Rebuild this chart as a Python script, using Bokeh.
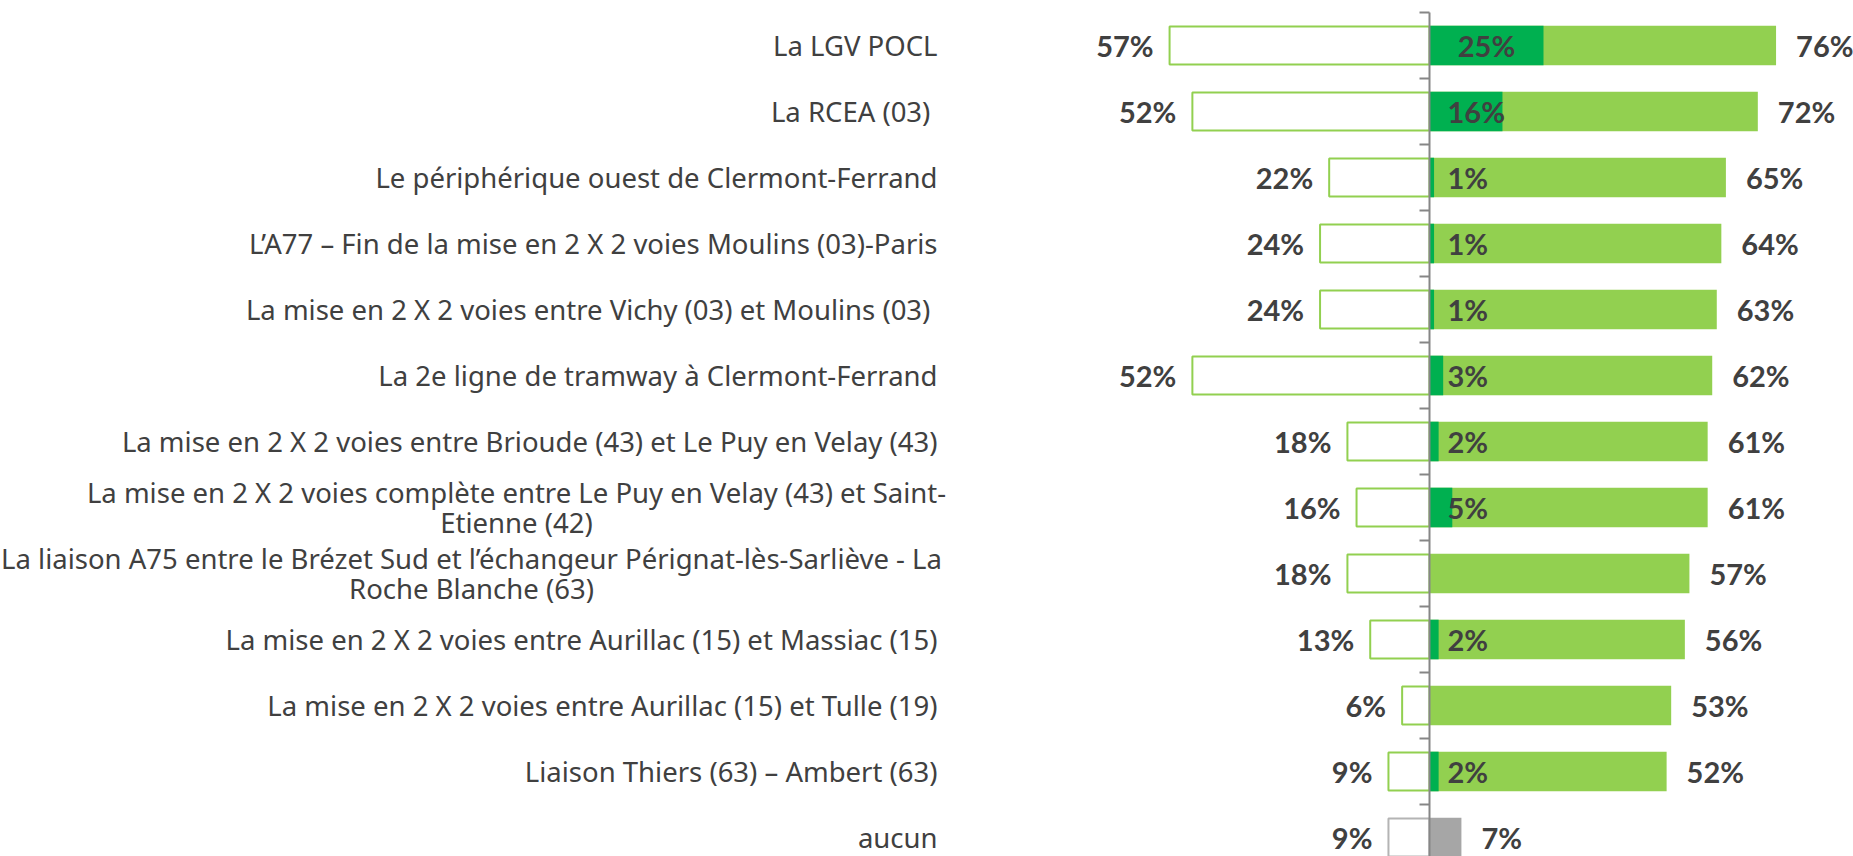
from bokeh.plotting import figure
from bokeh.models import ColumnDataSource, Range1d
from bokeh.core.properties import value
from bokeh.embed import file_html
from bokeh.resources import INLINE

# ---------------- data ----------------
categories = [
    "La LGV POCL",
    "La RCEA  (03)",
    "Le périphérique ouest de Clermont-Ferrand",
    "L\u2019A77 \u2013 Fin de la mise en 2 X 2 voies Moulins (03)-Paris",
    "La mise en 2 X 2 voies entre Vichy (03)  et Moulins (03)",
    "La 2e ligne de tramway à Clermont-Ferrand",
    "La mise en 2 X 2 voies entre Brioude (43) et Le Puy en Velay (43)",
    "La mise en 2 X 2 voies complète entre Le Puy en Velay (43) et Saint-\nEtienne (42)",
    "La liaison A75 entre le Brézet Sud et l\u2019échangeur Pérignat-lès-Sarliève - La\nRoche Blanche (63)",
    "La mise en 2 X 2 voies entre Aurillac (15) et Massiac (15)",
    "La mise en 2 X 2 voies entre Aurillac (15) et Tulle (19)",
    "Liaison Thiers (63) \u2013 Ambert (63)",
    "aucun",
]
left_values = [57, 52, 22, 24, 24, 52, 18, 16, 18, 13, 6, 9, 9]
total_values = [76, 72, 65, 64, 63, 62, 61, 61, 57, 56, 53, 52, 7]
first_values = [25, 16, 1, 1, 1, 3, 2, 5, None, 2, None, 2, None]

# ---------------- layout ----------------
W, H = 1853, 856
AXIS_PX = 1429
PX_PER = 4.56
ROW_PX = 66
TOP_PX = 12
LABEL_RIGHT_PX = 937
MULTI_CENTER_PX = [516, 471]   # centres of the two wrapped label blocks

LIGHT = "#92D050"
DARK = "#00B050"
GREY = "#A6A6A6"
TXT = "#404040"

x_start = -AXIS_PX / PX_PER
x_end = (W - AXIS_PX) / PX_PER
y_top = -0.5 - TOP_PX / ROW_PX
y_bottom = -0.5 + (H - TOP_PX) / ROW_PX

n = len(categories)
ys = list(range(n))
is_none = [c == "aucun" for c in categories]

p = figure(width=W, height=H, x_range=Range1d(x_start, x_end),
           y_range=Range1d(y_bottom, y_top), output_backend="svg",
           toolbar_location=None, min_border=0, x_axis_type=None,
           y_axis_type=None)
p.outline_line_color = None
p.background_fill_color = "white"
p.border_fill_color = "white"

# left (outlined) bars
src_left = ColumnDataSource(dict(
    y=ys, left=[-v for v in left_values],
    line=["#B4B4B4" if k else LIGHT for k in is_none]))
p.hbar(y="y", left="left", right=0, height=0.575, source=src_left,
       fill_color="white", line_color="line", line_width=2)

# right total bars
src_tot = ColumnDataSource(dict(
    y=ys, right=total_values,
    color=[GREY if k else LIGHT for k in is_none]))
p.hbar(y="y", left=0, right="right", height=0.6, source=src_tot,
       fill_color="color", line_color=None)

# dark first-choice bars
fy = [y for y, v in zip(ys, first_values) if v is not None]
fv = [v for v in first_values if v is not None]
p.hbar(y=fy, left=0, right=fv, height=0.6, fill_color=DARK, line_color=None)

# axis line and ticks
bounds = [i - 0.5 for i in range(n + 1)]
p.segment(x0=[0], y0=[bounds[0]], x1=[0], y1=[bounds[-1]],
          line_color="#868686", line_width=2)
p.segment(x0=[-10 / PX_PER] * len(bounds), y0=bounds, x1=[0] * len(bounds),
          y1=bounds, line_color="#868686", line_width=2)

# category labels
lab_font = dict(text_font=value("Noto Sans"), text_font_size="27.5px",
                text_color=TXT, text_baseline="middle")
single = [(y, c) for y, c in zip(ys, categories) if "\n" not in c]
multi = [(y, c) for y, c in zip(ys, categories) if "\n" in c]
p.text(x=[(LABEL_RIGHT_PX - AXIS_PX) / PX_PER] * len(single),
       y=[s[0] for s in single], text=[s[1] for s in single],
       text_align="right", **lab_font)
p.text(x=[(cx - AXIS_PX) / PX_PER for cx in MULTI_CENTER_PX],
       y=[m[0] for m in multi], text=[m[1] for m in multi],
       text_align="center", text_line_height=0.8, **lab_font)

vfont = dict(text_font=value("Lato"), text_font_size="29px",
             text_font_style="bold", text_color=TXT, text_baseline="middle")

# left value labels
p.text(x=[-(v + 16 / PX_PER) for v in left_values], y=ys,
       text=[f"{v}%" for v in left_values], text_align="right", **vfont)
# right total labels
p.text(x=[v + 20 / PX_PER for v in total_values], y=ys,
       text=[f"{v}%" for v in total_values], text_align="left", **vfont)
# first-choice labels
ix, ia = [], []
for v in fv:
    if v >= 20:
        ix.append(v / 2)
        ia.append("center")
    else:
        ix.append(18 / PX_PER)
        ia.append("left")
src_in = ColumnDataSource(dict(x=ix, y=fy, t=[f"{v}%" for v in fv], a=ia))
p.text(x="x", y="y", text="t", text_align="a", source=src_in, **vfont)

open("out.html", "w").write(file_html(p, INLINE))
